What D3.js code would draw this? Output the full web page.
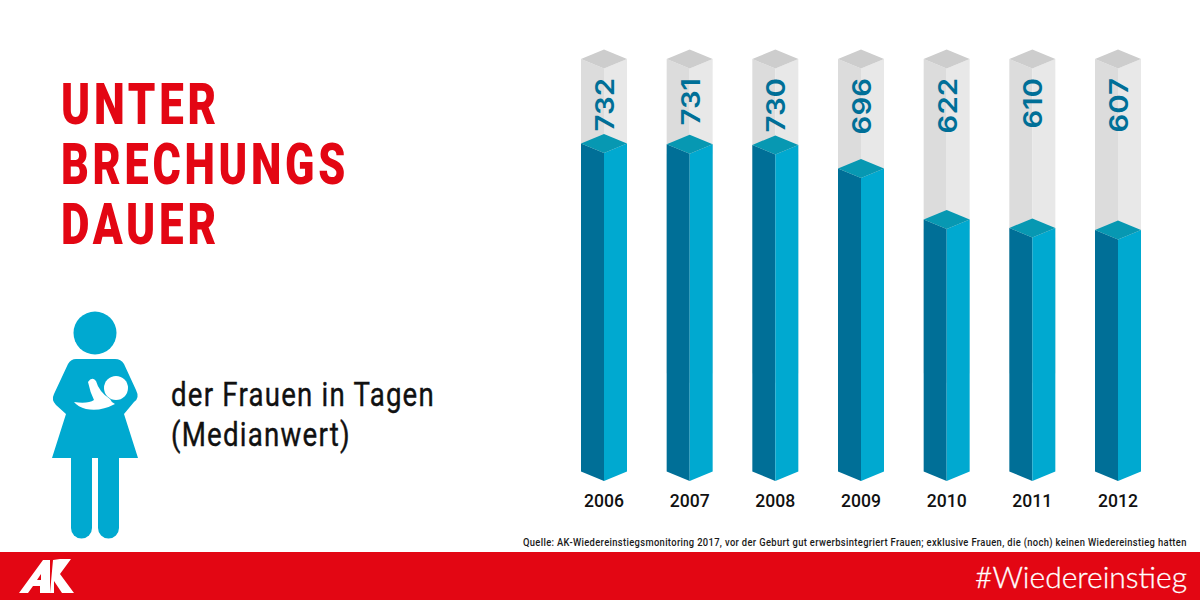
<!DOCTYPE html>
<html>
<head>
<meta charset="utf-8">
<script src="https://cdn.jsdelivr.net/npm/d3@7"></script>
<style>
  html, body { margin: 0; padding: 0; background: #fff; }
  svg { display: block; }
  text { font-family: Roboto, sans-serif; }
</style>
</head>
<body>
<div id="chart"></div>
<script>
var width = 1200,
  height = 600;

// chart data
const years = ['2006', '2007', '2008', '2009', '2010', '2011', '2012'];
const days = [732, 731, 730, 696, 622, 610, 607];

const titleLines = ['UNTER', 'BRECHUNGS', 'DAUER'];
const subtitleLines = ['der Frauen in Tagen', '(Medianwert)'];
const sourceText = 'Quelle: AK-Wiedereinstiegsmonitoring 2017, vor der Geburt gut erwerbsintegriert Frauen; exklusive Frauen, die (noch) keinen Wiedereinstieg hatten';
const hashtag = '#Wiedereinstieg';

// colours
const red = '#e30613';
const blue = '#00a9d0';
const blue_dark = '#006f97';
const blue_top = '#0798b2';
const grey_left = '#dcdcdc';
const grey_right = '#e8e8e8';
const grey_top = '#cdcdcd';

const svg = d3.select('#chart')
  .append('svg')
  .attr('width', width)
  .attr('height', height);

// the columns don't start at zero, the picture cuts them off at around 258 days
const x = d3.scalePoint().domain(years).range([604, 1118]);
const y = d3.scaleLinear().domain([258, 732]).range([481, 153]);
const trackMax = 854; // value where the grey column ends

const halfW = 23;
const rise = 9.5; // height of the isometric slant
const line = d3.line();

// no condensed fonts here, so squeeze the text to the width it has in the picture
function fit(sel, getX, getY, getLen) {
  sel.attr('transform', function(d, i) {
    const sx = getLen(d, i) / this.getComputedTextLength();
    return 'translate(' + getX(d, i) + ',' + getY(d, i) + ') scale(' + sx + ',1)';
  });
}

const column = svg.append('g')
  .selectAll('g')
  .data(years)
  .join('g');

function box(sel, getTop, bottom, left, right, top) {
  sel.append('path').attr('fill', left)
    .attr('d', (d, i) => {
      const cx = x(d), t = getTop(d, i);
      return line([[cx - halfW, t - rise], [cx, t], [cx, bottom], [cx - halfW, bottom - rise]]) + 'Z';
    });
  sel.append('path').attr('fill', right)
    .attr('d', (d, i) => {
      const cx = x(d), t = getTop(d, i);
      return line([[cx + halfW, t - rise], [cx, t], [cx, bottom], [cx + halfW, bottom - rise]]) + 'Z';
    });
  sel.append('path').attr('fill', top)
    .attr('d', (d, i) => {
      const cx = x(d), t = getTop(d, i);
      return line([[cx, t - 2 * rise], [cx + halfW, t - rise], [cx, t], [cx - halfW, t - rise]]) + 'Z';
    });
}

box(column, () => y(trackMax), y(400), grey_left, grey_right, grey_top);
box(column, (d, i) => y(days[i]), y.range()[0], blue_dark, blue, blue_top);

// values, turned on their side
column.append('text')
  .attr('transform', d => 'translate(' + (x(d) + 10) + ',78) rotate(-90) scale(1.13,1)')
  .attr('text-anchor', 'end')
  .style('font-family', 'Inter, sans-serif')
  .style('font-size', '26px')
  .style('font-weight', 600)
  .attr('fill', blue_dark)
  .text((d, i) => days[i]);

// year labels
svg.append('g')
  .selectAll('text')
  .data(years)
  .join('text')
  .style('font-size', '19px')
  .style('font-weight', 500)
  .attr('fill', '#111')
  .text(d => d)
  .call(fit, d => x(d) - 20, () => 507, () => 40);

// headline
const titleBase = [123.5, 184, 244];
const titleEnd = [159, 288, 159];
svg.append('g')
  .selectAll('text')
  .data(titleLines)
  .join('text')
  .style('font-size', '58px')
  .style('font-weight', 900)
  .style('letter-spacing', '5px')
  .attr('fill', red)
  .text(d => d)
  .call(fit, () => 61, (d, i) => titleBase[i], (d, i) => titleEnd[i]);

// sub heading
const subBase = [406, 446];
const subLen = [264, 180];
svg.append('g')
  .selectAll('text')
  .data(subtitleLines)
  .join('text')
  .style('font-size', '34px')
  .style('font-weight', 400)
  .style('letter-spacing', '1.5px')
  .attr('fill', '#111')
  .attr('stroke', '#111')
  .attr('stroke-width', 0.4)
  .text(d => d)
  .call(fit, () => 171, (d, i) => subBase[i], (d, i) => subLen[i]);

// woman with baby icon
const icon = svg.append('g').attr('fill', blue);
icon.append('circle').attr('cx', 95).attr('cy', 333).attr('r', 21.5);
icon.append('path')
  .attr('d', 'M76 359 L115 359 Q121 359 124 364 L136 390 Q140 398 134 402 L124 414 L138 458 L52 458 L66 414 L56 405 Q51 400 54 394 L68 364 Q71 359 76 359 Z');
icon.append('path')
  .attr('d', 'M71 458 L92 458 L92 528 A10.5 10.5 0 0 1 71 528 Z');
icon.append('path')
  .attr('d', 'M98 458 L119 458 L119 528 A10.5 10.5 0 0 1 98 528 Z');
icon.append('circle').attr('cx', 116).attr('cy', 388).attr('r', 12).attr('fill', '#fff');
icon.append('path')
  .attr('fill', '#fff')
  .attr('d', 'M88 382 Q92 376 96 381 Q99 392 110 399 Q111 402 115 404 Q100 412 86 409 Q78 407 74 402 Q88 404 94 400 Q90 392 88 382 Z');

// footer
svg.append('text')
  .style('font-size', '11px')
  .style('font-weight', 500)
  .style('letter-spacing', '0.4px')
  .attr('fill', '#1a1a1a')
  .text(sourceText)
  .call(fit, () => 523, () => 546, () => 664);

svg.append('rect')
  .attr('x', 0)
  .attr('y', 552)
  .attr('width', width)
  .attr('height', 48)
  .attr('fill', red);

// AK logo
const logo = svg.append('g').attr('fill', '#fff');
logo.append('path')
  .attr('fill-rule', 'evenodd')
  .attr('d', 'M19 593 L43 560 L50 560 L50 593 L40 593 L40 586 L33 586 L28 593 Z M37 580 L41 580 L41 574 Z');
logo.append('path')
  .attr('d', 'M53 560 L60 559 L71 559 L60 574 L74 593 L62 593 L54 581 L54 593 L50 593 Z');

svg.append('text')
  .style('font-family', 'Lato, sans-serif')
  .style('font-size', '30px')
  .style('font-weight', 300)
  .attr('fill', '#fff')
  .attr('stroke', '#fff')
  .attr('stroke-width', 0.3)
  .text(hashtag)
  .call(fit, () => 975, () => 588, () => 212);
</script>
</body>
</html>
